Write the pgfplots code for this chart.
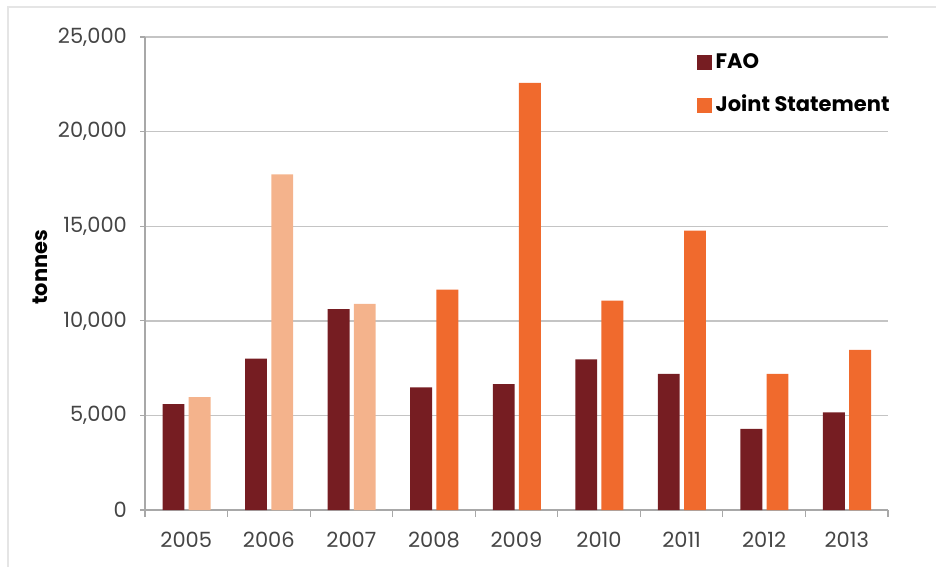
\documentclass[border=0pt]{standalone}
\usepackage{pgfplots}
\pgfplotsset{compat=1.18}
\usepackage{fontspec}
\setmainfont{Poppins}
\definecolor{fao}{HTML}{761D22}
\definecolor{js}{HTML}{F06A2D}
\definecolor{jslight}{HTML}{F4B38C}
\definecolor{gridc}{HTML}{C4C4C4}
\definecolor{axc}{HTML}{A8A8A8}
\definecolor{txt}{HTML}{454545}
\begin{document}
\begin{tikzpicture}[x=0.5pt,y=-0.5pt]
\useasboundingbox (0,0) rectangle (936,567);
\draw[line width=0.8pt, color=black!10] (8,567) -- (8,7) -- (936,7);
\begin{axis}[
  at={(72.5pt,-255pt)}, anchor=south west,
  scale only axis, width=371.5pt, height=236.5pt,
  ybar,
  xmin=-0.5, xmax=8.5, ymin=0, ymax=25000,
  axis x line*=bottom, axis y line*=left,
  axis line style={color=axc, line width=0.6pt},
  xtick={0,...,8},
  xticklabels={2005,2006,2007,2008,2009,2010,2011,2012,2013},
  minor xtick={-0.5,0.5,...,8.5},
  every major x tick/.style={draw=none},
  every minor x tick/.style={color=axc, line width=0.6pt},
  minor tick length=3.5pt,
  ytick={0,5000,...,25000},
  major tick length=2.5pt,
  every major y tick/.style={color=axc, line width=0.6pt},
  tick align=outside,
  scaled ticks=false,
  /pgf/number format/1000 sep={,},
  /pgf/number format/assume math mode=true,
  ymajorgrids,
  major grid style={color=gridc, line width=0.7pt},
  tick label style={font=\fontsize{10.5}{12}\selectfont, color=txt},
  xticklabel style={yshift=-5pt},
  yticklabel style={xshift=-3pt},
  ylabel={tonnes},
  ylabel style={font=\fontsize{10.5}{12}\selectfont\bfseries, at={(axis description cs:-0.141,0.513)}, anchor=center},
  bar width=0.265,
  legend style={at={(axis description cs:0.742,0.975)}, anchor=north west, draw=none, fill=none,
    font=\fontsize{10.5}{12}\selectfont\bfseries, row sep=8pt, inner sep=0pt},
  legend cell align=left,
  legend image code/.code={\fill[#1,draw=none] (0pt,-3.75pt) rectangle (7.5pt,3.75pt);},
]
\addplot[fill=fao, draw=none, bar shift=-0.155] coordinates {
(0,5600) (1,8000) (2,10620) (3,6480) (4,6650) (5,7960) (6,7190) (7,4290) (8,5160)};
\addlegendentry{FAO}
\addplot[fill=js, draw=none, bar shift=0.162] coordinates {
(3,11650) (4,22580) (5,11070) (6,14770) (7,7190) (8,8460)};
\addlegendentry{Joint Statement}
\addplot[fill=jslight, draw=none, bar shift=0.162, forget plot] coordinates {
(0,5960) (1,17740) (2,10900)};
\end{axis}
\end{tikzpicture}
\end{document}
